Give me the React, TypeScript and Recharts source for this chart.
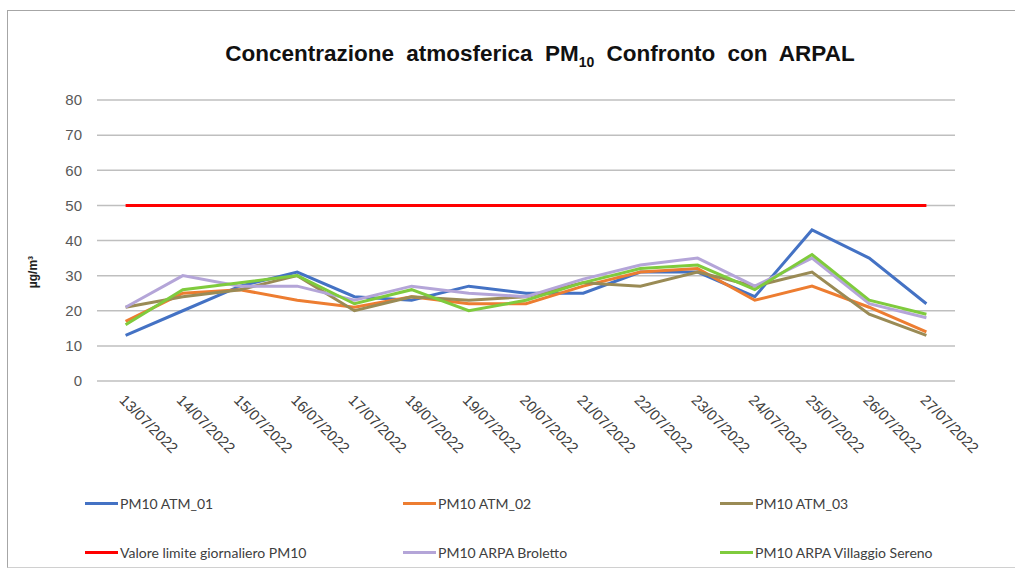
import React from 'react';
import { LineChart, Line, XAxis, YAxis, CartesianGrid } from 'recharts';

// ─── data ─────────────────────────────────────────────────────────────────────
const dates = [
  '13/07/2022', '14/07/2022', '15/07/2022', '16/07/2022', '17/07/2022',
  '18/07/2022', '19/07/2022', '20/07/2022', '21/07/2022', '22/07/2022',
  '23/07/2022', '24/07/2022', '25/07/2022', '26/07/2022', '27/07/2022',
];
const atm01 = [13, 20, 27, 31, 24, 23, 27, 25, 25, 31, 31, 24, 43, 35, 22];
const atm02 = [17, 25, 26, 23, 21, 24, 22, 22, 27, 31, 32, 23, 27, 21, 14];
const atm03 = [21, 24, 26, 30, 20, 24, 23, 24, 28, 27, 31, 27, 31, 19, 13];
const limite = [50, 50, 50, 50, 50, 50, 50, 50, 50, 50, 50, 50, 50, 50, 50];
const broletto = [21, 30, 27, 27, 23, 27, 25, 24, 29, 33, 35, 27, 35, 22, 18];
const villaggio = [16, 26, 28, 30, 22, 26, 20, 23, 28, 32, 33, 26, 36, 23, 19];
const yTicks = [0, 10, 20, 30, 40, 50, 60, 70, 80];

const series = [
  { key: 'atm01', name: 'PM10 ATM_01', color: '#4472C4' },
  { key: 'atm02', name: 'PM10 ATM_02', color: '#ED7D31' },
  { key: 'atm03', name: 'PM10 ATM_03', color: '#9A8B55' },
  { key: 'limite', name: 'Valore limite giornaliero PM10', color: '#FF0000' },
  { key: 'broletto', name: 'PM10 ARPA Broletto', color: '#B4A5D8' },
  { key: 'villaggio', name: 'PM10 ARPA Villaggio Sereno', color: '#7FCB3D' },
];

const rows = dates.map((d, i) => ({
  date: d,
  atm01: atm01[i],
  atm02: atm02[i],
  atm03: atm03[i],
  limite: limite[i],
  broletto: broletto[i],
  villaggio: villaggio[i],
}));

// draw order: red limit first, then stations
const drawOrder = ['limite', 'atm01', 'atm02', 'atm03', 'broletto', 'villaggio'];

const DateTick = (props: any) => {
  const { x, payload } = props;
  const bx = x - 7;
  const by = 401;
  return (
    <text
      x={bx}
      y={by}
      transform={`rotate(45 ${bx} ${by})`}
      textAnchor="start"
      fontSize={15}
      fill="#404040"
      fontFamily="'Liberation Sans', Arial, sans-serif"
    >
      {payload.value}
    </text>
  );
};

const legendCols = [85, 403, 720];
const legendRows = [503, 552];

export default function App() {
  return (
    <div style={{ position: 'absolute', left: 0, top: 0, width: 1015, height: 569, background: '#fff', overflow: 'hidden' }}>
      {/* chart frame */}
      <div style={{ position: 'absolute', left: 7, top: 10, width: 1020, height: 556, borderTop: '1.5px solid #A6A6A6', borderLeft: '1.5px solid #A6A6A6', borderBottom: '1px solid #D0D0D0' }} />

      <div
        style={{
          position: 'absolute', left: 0, width: 1080, top: 41, textAlign: 'center',
          fontFamily: "'Liberation Sans', Arial, sans-serif", fontWeight: 'bold', fontSize: 22.5,
          wordSpacing: 6, color: '#111',
        }}
      >
        Concentrazione atmosferica PM<sub style={{ fontSize: 14, verticalAlign: -6 }}>10</sub> Confronto con ARPAL
      </div>

      <div
        style={{
          position: 'absolute', left: 33, top: 272, transform: 'translate(-50%, -50%) rotate(-90deg)',
          fontFamily: "'Liberation Sans', Arial, sans-serif", fontWeight: 'bold', fontSize: 12, color: '#222', whiteSpace: 'nowrap',
        }}
      >
        µg/m³
      </div>

      <div style={{ position: 'absolute', left: 0, top: 0 }}>
        <LineChart width={1015} height={569} data={rows} margin={{ top: 100, right: 60, bottom: 118, left: 37 }}>
          <CartesianGrid horizontal vertical={false} stroke="#BFBFBF" strokeWidth={1.5} />
          <XAxis
            dataKey="date"
            axisLine={false}
            tickLine={false}
            height={70}
            interval={0}
            padding={{ left: 28.6, right: 28.6 }}
            tick={<DateTick />}
          />
          <YAxis
            domain={[0, 80]}
            ticks={yTicks}
            width={60}
            axisLine={false}
            tickLine={false}
            tickMargin={9}
            tick={{ fontSize: 15, fill: '#595959', fontFamily: "'Liberation Sans', Arial, sans-serif" }}
          />
          {drawOrder.map((k) => {
            const s = series.find((x) => x.key === k)!;
            return (
              <Line
                key={k}
                dataKey={k}
                name={s.name}
                stroke={s.color}
                strokeWidth={3}
                dot={false}
                isAnimationActive={false}
              />
            );
          })}
        </LineChart>
      </div>

      {series.map((s, i) => {
        const cx = legendCols[i % 3];
        const cy = legendRows[Math.floor(i / 3)];
        return (
          <div key={s.key} style={{ position: 'absolute', left: cx, top: cy - 10, height: 20, display: 'flex', alignItems: 'center', whiteSpace: 'nowrap' }}>
            <div style={{ width: 33, height: 3, background: s.color, marginRight: 2 }} />
            <span style={{ fontFamily: 'Lato, sans-serif', fontSize: 14, color: '#404040' }}>{s.name}</span>
          </div>
        );
      })}
    </div>
  );
}
